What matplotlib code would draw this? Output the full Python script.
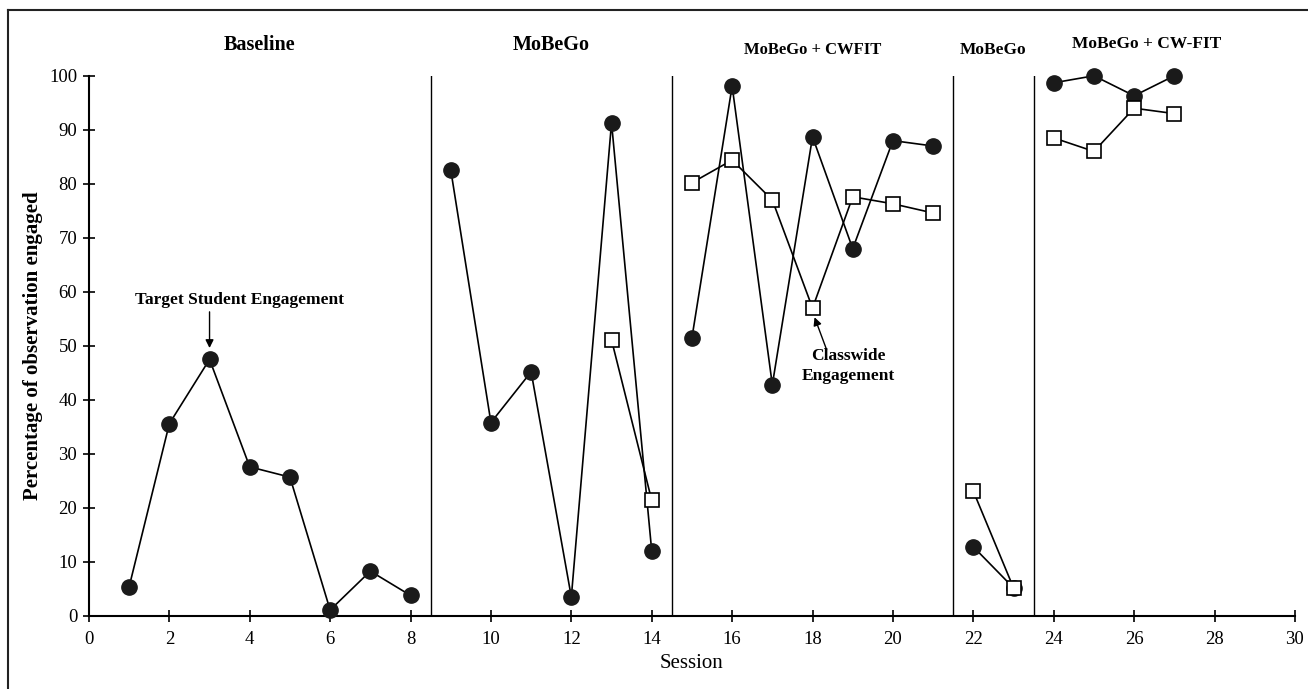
import matplotlib
matplotlib.use("Agg")
import matplotlib.pyplot as plt
from matplotlib.lines import Line2D

plt.rcParams['font.family'] = ['Liberation Serif', 'DejaVu Serif']

# Data by phase (session numbers and percentages)
phase_names = ["Baseline", "MoBeGo", "MoBeGo + CWFIT", "MoBeGo", "MoBeGo + CW-FIT"]
phase_breaks = [8.5, 14.5, 21.5, 23.5]

target_sessions = [[1, 2, 3, 4, 5, 6, 7, 8],
                   [9, 10, 11, 12, 13, 14],
                   [15, 16, 17, 18, 19, 20, 21],
                   [22, 23],
                   [24, 25, 26, 27]]
target_values = [[5.4, 35.6, 47.5, 27.6, 25.7, 1.1, 8.3, 3.8],
                 [82.6, 35.8, 45.2, 3.5, 91.3, 12.0],
                 [51.5, 98.1, 42.8, 88.7, 68.0, 88.0, 87.0],
                 [12.8, 5.2],
                 [98.7, 100.0, 96.3, 100.0]]

class_sessions = [[13, 14],
                  [15, 16, 17, 18, 19, 20, 21],
                  [22, 23],
                  [24, 25, 26, 27]]
class_values = [[51.1, 21.4],
                [80.2, 84.4, 77.0, 57.0, 77.6, 76.3, 74.6],
                [23.1, 5.2],
                [88.5, 86.0, 94.0, 93.0]]

x_ticks = list(range(0, 31, 2))
y_ticks = list(range(0, 101, 10))

fig = plt.figure(figsize=(13.08, 6.89), dpi=100)
ax = fig.add_axes([0.068, 0.106, 0.922, 0.784])

for xs, ys in zip(target_sessions, target_values):
    ax.plot(xs, ys, color='black', lw=1.2, marker='o', ms=11,
            markerfacecolor='#1a1a1a', markeredgecolor='#1a1a1a', zorder=3, clip_on=False)
for xs, ys in zip(class_sessions, class_values):
    ax.plot(xs, ys, color='black', lw=1.2, marker='s', ms=10,
            markerfacecolor='white', markeredgecolor='black', markeredgewidth=1.2, zorder=4,
            clip_on=False)

for b in phase_breaks:
    ax.plot([b, b], [0, 100], color='black', lw=1.0, zorder=1)

ax.set_xlim(0, 30)
ax.set_ylim(0, 100)
ax.spines['top'].set_visible(False)
ax.spines['right'].set_visible(False)
ax.spines['left'].set_linewidth(1.5)
ax.spines['bottom'].set_linewidth(1.5)
ax.set_xticks(x_ticks)
ax.set_yticks(y_ticks)
ax.tick_params(direction='inout', length=9, width=1.2, labelsize=13.5)
ax.tick_params(axis='x', pad=6)
ax.tick_params(axis='y', pad=4)
ax.set_xlabel("Session", fontsize=15, labelpad=5)
ax.set_ylabel("Percentage of observation engaged", fontsize=15, fontweight='bold', labelpad=4)

# Phase labels
label_pos = [(4.25, 45, 14.5), (11.5, 45, 14.5), (18.0, 50, 12), (22.5, 50, 12.5), (26.3, 44, 12.5)]
for name, (lx, ly, fs) in zip(phase_names, label_pos):
    fig.text(ax.transData.transform((lx, 0))[0] / fig.bbox.width, 1 - ly / 689, name,
             ha='center', va='center', fontsize=fs, fontweight='bold')

ax.text(3.75, 58.5, "Target Student Engagement", ha='center', va='center',
        fontsize=12.5, fontweight='bold')
ax.annotate("", xy=(3, 49.6), xytext=(3, 56.3),
            arrowprops=dict(arrowstyle='-|>', color='black', lw=1.0, mutation_scale=12,
                            shrinkA=0, shrinkB=0))

ax.text(18.9, 46.3, "Classwide\nEngagement", ha='center', va='center',
        fontsize=12.5, fontweight='bold', linespacing=1.35)
ax.annotate("", xy=(18.05, 55.3), xytext=(18.35, 49.3),
            arrowprops=dict(arrowstyle='-|>', color='black', lw=1.0, mutation_scale=12,
                            shrinkA=0, shrinkB=0))

# Figure border (top and left)
fig.add_artist(Line2D([8/1308, 8/1308], [0, 1 - 10/689], color='#222222', lw=1.5, transform=fig.transFigure))
fig.add_artist(Line2D([8/1308, 1], [1 - 10/689, 1 - 10/689], color='#222222', lw=1.5, transform=fig.transFigure))

fig.savefig("out.png", dpi=100)
